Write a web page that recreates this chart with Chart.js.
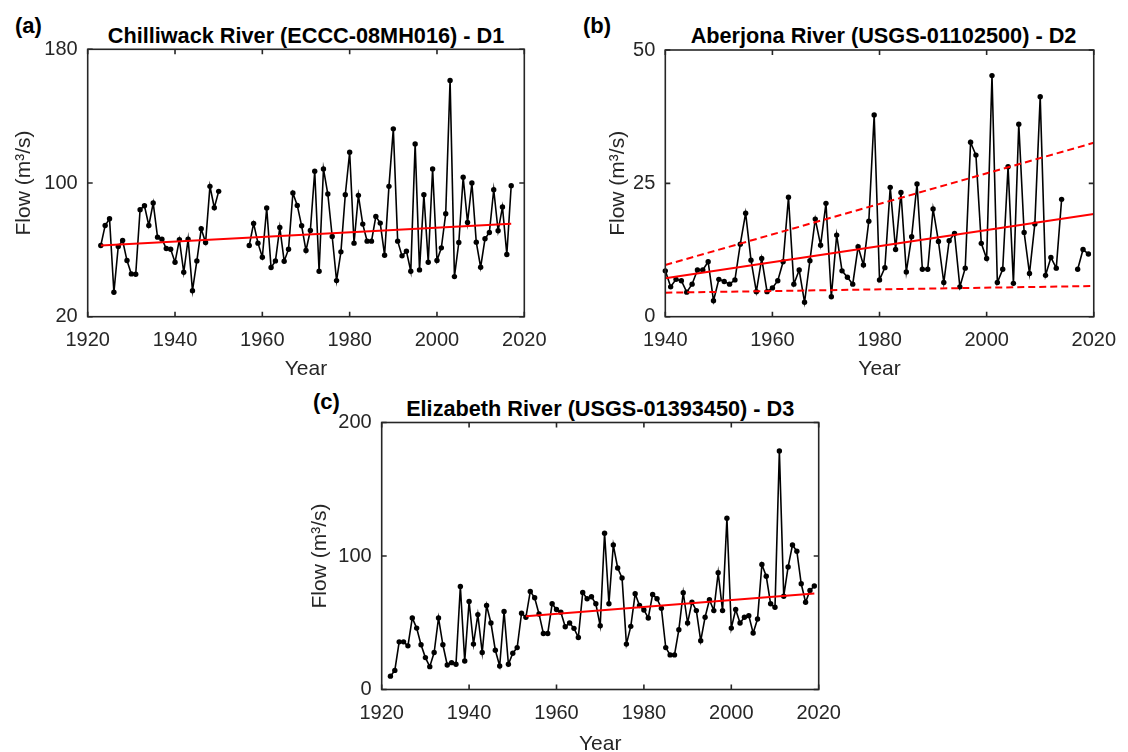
<!DOCTYPE html>
<html>
<head>
<meta charset="utf-8">
<script src="https://cdn.jsdelivr.net/npm/chart.js@4"></script>
<style>
  html, body { margin: 0; padding: 0; background: #fff; width: 1128px; height: 752px; overflow: hidden; position: relative; }
  canvas { position: absolute; }
  .ttl { position: absolute; white-space: nowrap; font: bold 21.7px "Liberation Sans", Arial, Helvetica, sans-serif; line-height: 21px; color: #000; transform: translateX(-50%); }
  .lab { position: absolute; white-space: nowrap; font: bold 22px "Liberation Sans", Arial, Helvetica, sans-serif; line-height: 22px; color: #000; }
</style>
</head>
<body>
<div class="lab" style="left:15px; top:14.7px;">(a)</div>
<div class="lab" style="left:583px; top:14.7px;">(b)</div>
<div class="lab" style="left:313px; top:390.7px;">(c)</div>
<div class="ttl" style="left:306px; top:25px;">Chilliwack River (ECCC-08MH016) - D1</div>
<div class="ttl" style="left:883.5px; top:25px;">Aberjona River (USGS-01102500) - D2</div>
<div class="ttl" style="left:600.2px; top:398.4px;">Elizabeth River (USGS-01393450) - D3</div>

<canvas id="cA" width="560" height="390" style="left:0px; top:0px;"></canvas>
<canvas id="cB" width="568" height="390" style="left:560px; top:0px;"></canvas>
<canvas id="cC" width="580" height="380" style="left:280px; top:380px;"></canvas>

<script>
// ---------------- DATA ----------------
// (a) Chilliwack River, 1923-2017 (no record 1951-1956)
const yearsA = range(1923, 2017);
const flowA = [
  62.6, 74.6, 78.6, 34.6, 62, 65.6, 53.6, 45.6, 45.4, 84,          // 1923-1932
  86.4, 74.6, 88, 67.6, 66.4, 60.8, 60.4, 52.6, 66, 46.6,          // 1933-1942
  66.4, 35.6, 53.4, 72.6, 64.4, 98, 85.2, 95,                      // 1943-1950
  null, null, null, null, null, null,                              // 1951-1956
  62.6, 75.8, 64, 55.6, 85, 49.4, 53.4, 73.4, 53.2, 60.4,          // 1957-1966
  94, 86.6, 74.4, 59.6, 71.6, 107, 47.2, 108.4, 93.4, 68,          // 1967-1976
  41.6, 58.8, 93, 118.4, 64, 92.6, 75.4, 65.2, 65.2, 80,           // 1977-1986
  76, 56.8, 98, 132.4, 65.2, 56.4, 59.2, 47.2, 123.4, 48,          // 1987-1996
  93, 52.6, 108.4, 53.6, 61.2, 81.6, 161.4, 44, 64.4, 103.4,       // 1997-2006
  76.4, 100, 64.6, 49.6, 66.6, 70.4, 96, 71.4, 85.6, 57.2,         // 2007-2016
  98.4                                                             // 2017
];
const trendYearsA = [1923, 2017];
const trendA = [62.6, 75.6];

// (b) Aberjona River, 1940-2019 (no record 2015-2016)
const yearsB = range(1940, 2019);
const flowB = [
  8.6, 5.6, 7.0, 6.75, 4.6, 6.1, 8.75, 8.75, 10.3, 3.0,            // 1940-1949
  7.0, 6.6, 6.1, 6.9, 13.6, 19.4, 10.6, 4.7, 10.9, 4.7,            // 1950-1959
  5.4, 6.75, 10.3, 22.4, 6.1, 8.75, 2.7, 10.5, 18.3, 13.4,         // 1960-1969
  21.25, 3.75, 15.3, 8.6, 7.4, 6.1, 13.1, 9.7, 17.9, 37.8,         // 1970-1979
  6.9, 9.2, 24.25, 12.6, 23.3, 8.4, 15, 24.9, 8.9, 8.9,            // 1980-1989
  20.2, 14.1, 6.4, 14.25, 15.6, 5.6, 9.1, 32.7, 30.3, 13.75,       // 1990-1999
  10.9, 45.2, 6.4, 8.9, 28.1, 6.25, 36.1, 15.8, 8.1, 17.4,         // 2000-2009
  41.25, 7.75, 11.1, 9.1, 22, null, null, 8.9, 12.6, 11.75         // 2010-2019
];
const trendYearsB = [1940, 2020];
const trendB = [7.2, 19.25];
const upperB = [9.7, 32.6];
const lowerB = [4.5, 5.75];

// (c) Elizabeth River, 1922-2019
const yearsC = range(1922, 2019);
const flowC = [
  10, 14.3, 35.7, 35.7, 32.7, 53.6, 46, 33.5,                      // 1922-1929
  23.9, 17.1, 27.7, 53.6, 33.5, 18.4, 20.1, 18.9, 77.2, 21.4,      // 1930-1939
  65.9, 34, 56.1, 27.7, 62.9, 49.8, 29.4, 17.6, 58.4, 18.9,        // 1940-1949
  27.2, 31.4, 57.1, 54.1, 73.5, 68.7, 56.6, 42, 42, 64.2,          // 1950-1959
  59.9, 57.9, 47, 49.8, 45.8, 39, 72.7, 68, 69.5, 64.2,            // 1960-1969
  47.8, 117, 64.2, 108.2, 91, 83.5, 34, 47.3, 71.7, 62.9,          // 1970-1979
  59.6, 53.6, 71.2, 68, 60.9, 31.4, 25.9, 25.9, 44.8, 72.5,        // 1980-1989
  49.8, 65.4, 59.1, 36.5, 54.1, 67.2, 59.1, 87.5, 59.1, 128.3,     // 1990-1999
  46, 59.9, 49.8, 54.1, 55.3, 42.3, 52.8, 93.6, 84.8, 64.2,        // 2000-2009
  61.6, 178.6, 69.9, 91.8, 108.2, 103.6, 79.2, 65.4, 74.2, 77.5    // 2010-2019
];
const trendYearsC = [1953, 2019];
const trendC = [54.8, 72.0];

// ---------------- HELPERS ----------------
function range(a, b) { const r = []; for (let v = a; v <= b; v++) r.push(v); return r; }
function pts(xs, ys) { return xs.map((x, i) => ({ x: x, y: ys[i] })); }

const FONT = '"Liberation Sans", Arial, Helvetica, sans-serif';
const AX = '#262626';

const boxPlugin = {
  id: 'matlabBox',
  afterDatasetsDraw(chart) {
    const { ctx, chartArea: a, scales } = chart;
    const x = scales.x, y = scales.y;
    ctx.save();
    ctx.strokeStyle = AX;
    ctx.lineWidth = 1.6;
    ctx.strokeRect(a.left, a.top, a.right - a.left, a.bottom - a.top);
    const L = 5;
    ctx.beginPath();
    x.ticks.forEach(t => {
      const p = x.getPixelForValue(t.value);
      ctx.moveTo(p, a.bottom); ctx.lineTo(p, a.bottom - L);
      ctx.moveTo(p, a.top); ctx.lineTo(p, a.top + L);
    });
    y.ticks.forEach(t => {
      const p = y.getPixelForValue(t.value);
      ctx.moveTo(a.left, p); ctx.lineTo(a.left + L, p);
      ctx.moveTo(a.right, p); ctx.lineTo(a.right - L, p);
    });
    ctx.stroke();
    ctx.restore();
  }
};

function trendDs(xs, ys, dash) {
  return {
    data: pts(xs, ys), borderColor: '#ff0000', borderWidth: 2, borderDash: dash || [],
    pointRadius: 0, pointHoverRadius: 0, fill: false, tension: 0, clip: false
  };
}
function dataDs(xs, ys) {
  return {
    data: pts(xs, ys), borderColor: '#000', backgroundColor: '#000', borderWidth: 1.6,
    pointRadius: 2.7, pointBackgroundColor: '#000', pointBorderColor: '#000', pointBorderWidth: 0,
    fill: false, tension: 0, spanGaps: false, clip: false
  };
}

function makeChart(id, o) {
  return new Chart(document.getElementById(id), {
    type: 'line',
    data: { datasets: o.datasets },
    plugins: [boxPlugin],
    options: {
      responsive: false, animation: false, devicePixelRatio: 1,
      events: [],
      layout: { padding: { left: o.padL, top: o.padT, right: o.padR, bottom: 0 } },
      plugins: { legend: { display: false }, tooltip: { enabled: false }, title: { display: false } },
      scales: {
        x: {
          type: 'linear', min: o.xmin, max: o.xmax,
          ticks: { stepSize: 20, autoSkip: false, maxRotation: 0, padding: o.xTickPad,
                   color: AX, font: { family: FONT, size: 20 }, callback: v => String(v) },
          grid: { display: false, drawTicks: false },
          border: { display: false },
          title: { display: true, text: 'Year', color: AX, font: { family: FONT, size: 21 },
                   padding: { top: 0, bottom: o.xTitlePad } },
          afterFit: s => { s.height = o.xH; }
        },
        y: {
          type: 'linear', min: o.ymin, max: o.ymax,
          ticks: { stepSize: o.ystep, autoSkip: false, padding: 10,
                   color: AX, font: { family: FONT, size: 20 }, callback: v => String(v) },
          grid: { display: false, drawTicks: false },
          border: { display: false },
          title: { display: true, text: 'Flow (m³/s)', color: AX, font: { family: FONT, size: 21 },
                   padding: { top: 4, bottom: 0 } },
          afterFit: s => { s.width = o.yW; }
        }
      }
    }
  });
}

// (a) plot area: x 87.7..524.3, y 49.3..316.7
makeChart('cA', {
  datasets: [trendDs(trendYearsA, trendA), dataDs(yearsA, flowA)],
  xmin: 1920, xmax: 2020, ymin: 20, ymax: 180, ystep: 80,
  padL: 7.4, padT: 49.3, padR: 560 - 524.3, yW: 80.3, xH: 390 - 316.7,
  xTickPad: 12, xTitlePad: 8
});

// (b) plot area: x 665.3..1101.7 (canvas 105.3..541.7), y 50..316.7
makeChart('cB', {
  datasets: [trendDs(trendYearsB, trendB), trendDs(trendYearsB, upperB, [7, 4]),
             trendDs(trendYearsB, lowerB, [7, 4]), dataDs(yearsB, flowB)],
  xmin: 1940, xmax: 2020, ymin: 0, ymax: 50, ystep: 25,
  padL: 41.7, padT: 50, padR: 568 - 541.7, yW: 63.6, xH: 390 - 316.7,
  xTickPad: 12, xTitlePad: 8
});

// (c) plot area: x 381.7..818.7 (canvas 101.7..538.7), y 422.5..689.5 (canvas 42.5..309.5)
makeChart('cC', {
  datasets: [trendDs(trendYearsC, trendC), dataDs(yearsC, flowC)],
  xmin: 1920, xmax: 2020, ymin: 0, ymax: 200, ystep: 100,
  padL: 23.9, padT: 42.5, padR: 580 - 538.7, yW: 77.8, xH: 380 - 309.5,
  xTickPad: 12, xTitlePad: 3
});
</script>
</body>
</html>
